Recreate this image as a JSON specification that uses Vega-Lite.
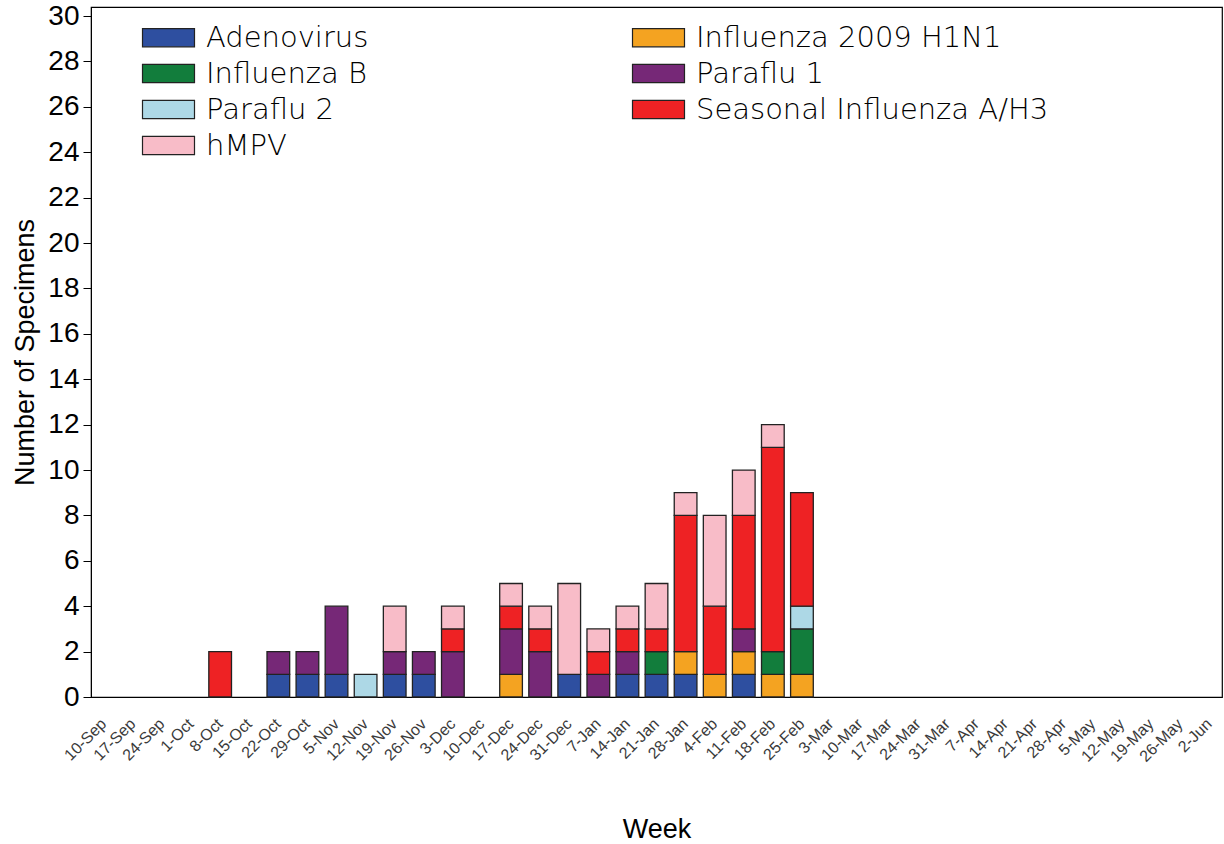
{
  "$schema": "https://vega.github.io/schema/vega-lite/v6.json",
  "width": 1131,
  "height": 690,
  "autosize": {"type": "none"},
  "padding": {"left": 91, "top": 7, "right": 2, "bottom": 147},
  "background": "white",
  "config": {
    "view": {"stroke": "black", "strokeWidth": 1.2},
    "axis": {"grid": false}
  },
  "data": {
    "values": [
      {"week": "8-Oct", "virus": "Seasonal Influenza A/H3", "count": 2},
      {"week": "22-Oct", "virus": "Adenovirus", "count": 1},
      {"week": "22-Oct", "virus": "Paraflu 1", "count": 1},
      {"week": "29-Oct", "virus": "Adenovirus", "count": 1},
      {"week": "29-Oct", "virus": "Paraflu 1", "count": 1},
      {"week": "5-Nov", "virus": "Adenovirus", "count": 1},
      {"week": "5-Nov", "virus": "Paraflu 1", "count": 3},
      {"week": "12-Nov", "virus": "Paraflu 2", "count": 1},
      {"week": "19-Nov", "virus": "Adenovirus", "count": 1},
      {"week": "19-Nov", "virus": "Paraflu 1", "count": 1},
      {"week": "19-Nov", "virus": "hMPV", "count": 2},
      {"week": "26-Nov", "virus": "Adenovirus", "count": 1},
      {"week": "26-Nov", "virus": "Paraflu 1", "count": 1},
      {"week": "3-Dec", "virus": "Paraflu 1", "count": 2},
      {"week": "3-Dec", "virus": "Seasonal Influenza A/H3", "count": 1},
      {"week": "3-Dec", "virus": "hMPV", "count": 1},
      {"week": "17-Dec", "virus": "Influenza 2009 H1N1", "count": 1},
      {"week": "17-Dec", "virus": "Paraflu 1", "count": 2},
      {"week": "17-Dec", "virus": "Seasonal Influenza A/H3", "count": 1},
      {"week": "17-Dec", "virus": "hMPV", "count": 1},
      {"week": "24-Dec", "virus": "Paraflu 1", "count": 2},
      {"week": "24-Dec", "virus": "Seasonal Influenza A/H3", "count": 1},
      {"week": "24-Dec", "virus": "hMPV", "count": 1},
      {"week": "31-Dec", "virus": "Adenovirus", "count": 1},
      {"week": "31-Dec", "virus": "hMPV", "count": 4},
      {"week": "7-Jan", "virus": "Paraflu 1", "count": 1},
      {"week": "7-Jan", "virus": "Seasonal Influenza A/H3", "count": 1},
      {"week": "7-Jan", "virus": "hMPV", "count": 1},
      {"week": "14-Jan", "virus": "Adenovirus", "count": 1},
      {"week": "14-Jan", "virus": "Paraflu 1", "count": 1},
      {"week": "14-Jan", "virus": "Seasonal Influenza A/H3", "count": 1},
      {"week": "14-Jan", "virus": "hMPV", "count": 1},
      {"week": "21-Jan", "virus": "Adenovirus", "count": 1},
      {"week": "21-Jan", "virus": "Influenza B", "count": 1},
      {"week": "21-Jan", "virus": "Seasonal Influenza A/H3", "count": 1},
      {"week": "21-Jan", "virus": "hMPV", "count": 2},
      {"week": "28-Jan", "virus": "Adenovirus", "count": 1},
      {"week": "28-Jan", "virus": "Influenza 2009 H1N1", "count": 1},
      {"week": "28-Jan", "virus": "Seasonal Influenza A/H3", "count": 6},
      {"week": "28-Jan", "virus": "hMPV", "count": 1},
      {"week": "4-Feb", "virus": "Influenza 2009 H1N1", "count": 1},
      {"week": "4-Feb", "virus": "Seasonal Influenza A/H3", "count": 3},
      {"week": "4-Feb", "virus": "hMPV", "count": 4},
      {"week": "11-Feb", "virus": "Adenovirus", "count": 1},
      {"week": "11-Feb", "virus": "Influenza 2009 H1N1", "count": 1},
      {"week": "11-Feb", "virus": "Paraflu 1", "count": 1},
      {"week": "11-Feb", "virus": "Seasonal Influenza A/H3", "count": 5},
      {"week": "11-Feb", "virus": "hMPV", "count": 2},
      {"week": "18-Feb", "virus": "Influenza 2009 H1N1", "count": 1},
      {"week": "18-Feb", "virus": "Influenza B", "count": 1},
      {"week": "18-Feb", "virus": "Seasonal Influenza A/H3", "count": 9},
      {"week": "18-Feb", "virus": "hMPV", "count": 1},
      {"week": "25-Feb", "virus": "Influenza 2009 H1N1", "count": 1},
      {"week": "25-Feb", "virus": "Influenza B", "count": 2},
      {"week": "25-Feb", "virus": "Paraflu 2", "count": 1},
      {"week": "25-Feb", "virus": "Seasonal Influenza A/H3", "count": 5}
    ]
  },
  "mark": {"type": "bar", "stroke": "#222222", "strokeWidth": 1.3},
  "encoding": {
    "x": {
      "field": "week",
      "type": "nominal",
      "sort": null,
      "scale": {
        "domain": ["10-Sep","17-Sep","24-Sep","1-Oct","8-Oct","15-Oct","22-Oct","29-Oct","5-Nov","12-Nov","19-Nov","26-Nov","3-Dec","10-Dec","17-Dec","24-Dec","31-Dec","7-Jan","14-Jan","21-Jan","28-Jan","4-Feb","11-Feb","18-Feb","25-Feb","3-Mar","10-Mar","17-Mar","24-Mar","31-Mar","7-Apr","14-Apr","21-Apr","28-Apr","5-May","12-May","19-May","26-May","2-Jun"],
        "paddingInner": 0.22,
        "paddingOuter": 0.05
      },
      "axis": {
        "title": "Week",
        "titleFont": "Liberation Sans",
        "titleFontSize": 27,
        "titleFontWeight": "normal",
        "titleColor": "black",
        "titlePadding": 52,
        "labelAngle": -45,
        "labelAlign": "right",
        "labelBaseline": "middle",
        "labelFont": "Liberation Sans",
        "labelFontSize": 16,
        "labelColor": "#3a3a3a",
        "labelPadding": 24,
        "ticks": false,
        "domain": false
      }
    },
    "y": {
      "field": "count",
      "type": "quantitative",
      "stack": "zero",
      "scale": {"domain": [0, 30.4], "nice": false},
      "axis": {
        "title": "Number of Specimens",
        "titleFont": "Liberation Sans",
        "titleFontSize": 27,
        "titleFontWeight": "normal",
        "titleColor": "black",
        "titlePadding": 8,
        "values": [0,2,4,6,8,10,12,14,16,18,20,22,24,26,28,30],
        "labelFont": "Liberation Sans",
        "labelFontSize": 28,
        "labelColor": "black",
        "labelPadding": 4,
        "tickColor": "black",
        "tickSize": 8,
        "domainColor": "black"
      }
    },
    "order": {"field": "virus", "sort": "ascending"},
    "color": {
      "field": "virus",
      "type": "nominal",
      "scale": {
        "domain": ["Adenovirus","Influenza 2009 H1N1","Influenza B","Paraflu 1","Paraflu 2","Seasonal Influenza A/H3","hMPV"],
        "range": ["#2E4FA0","#F4A321","#127D3C","#762877","#ADD8E6","#EE2224","#F8BCC8"]
      },
      "legend": {
        "title": null,
        "orient": "none",
        "direction": "horizontal",
        "legendX": 63,
        "legendY": 16,
        "columns": 2,
        "columnPadding": 261,
        "rowPadding": 6,
        "padding": 0,
        "symbolType": "M-2,-0.7L2,-0.7L2,0.7L-2,0.7Z",
        "symbolSize": 676,
        "symbolStrokeColor": "#222222",
        "symbolStrokeWidth": 1.2,
        "symbolOpacity": 1,
        "labelFont": "DejaVu Sans",
        "labelFontWeight": 200,
        "labelFontSize": 29,
        "labelColor": "black",
        "labelOffset": 23,
        "labelLimit": 500
      }
    }
  }
}
